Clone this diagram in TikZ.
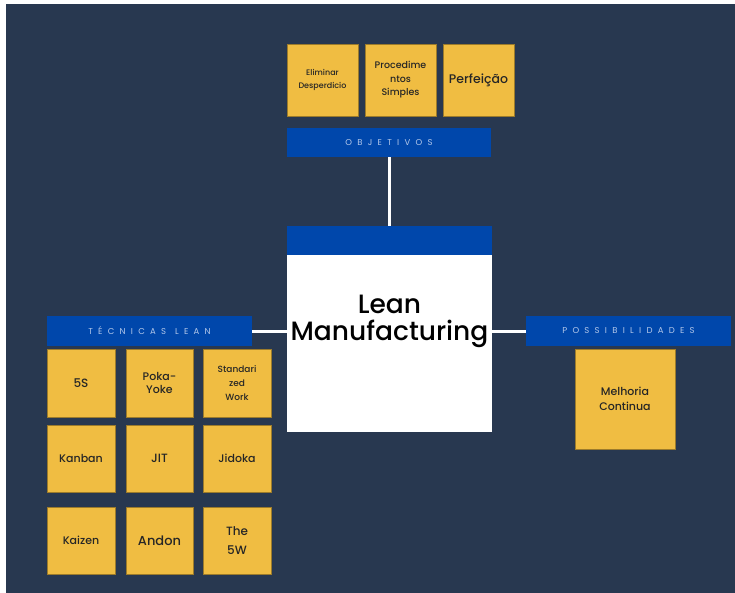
\documentclass[tikz,border=0pt]{standalone}
\usepackage{fontspec}
\setmainfont{Poppins}[UprightFont=* Medium]
\newfontfamily\headfont{Poppins}[LetterSpace=62]
\definecolor{bgNavy}{HTML}{283850}
\definecolor{leanBlue}{HTML}{0047AB}
\definecolor{noteYellow}{HTML}{F0BD42}
\definecolor{headText}{HTML}{B4C8EA}

\begin{document}
\begin{tikzpicture}[x=1pt,y=-1pt,
    note/.style={fill=noteYellow,draw=noteYellow!65!black,line width=0.5pt,inner sep=0pt,
                 minimum width=68pt,minimum height=68pt,align=center,text=black!85,font=\fontsize{11}{13}\selectfont},
    bar/.style={fill=leanBlue,inner sep=0pt,minimum width=205pt,minimum height=30pt,
                text=headText,font=\headfont\fontsize{8.5}{9}\selectfont},
    link/.style={line width=3pt,draw=white}]
    % page
    \useasboundingbox (0,0) rectangle (735,593);
    \fill[bgNavy] (6,4) rectangle (735,593);

    % centre
    \node[fill=white,inner sep=0pt,minimum width=205pt,minimum height=177pt] (leanBox) at (389.5,343.5) {};
    \node[fill=leanBlue,inner sep=0pt,minimum width=205pt,minimum height=29pt] (leanHead) at (389.5,240.5) {};
    \node[align=center,font=\fontsize{26.5}{27}\selectfont] (leanText) at (389.5,321) {Lean\\Manufacturing};

    % objetivos
    \node[bar,minimum width=204pt,minimum height=29pt] (objBar) at (389,142.5) {OBJETIVOS};
    \node[note,minimum width=71pt,minimum height=72pt,font=\fontsize{8}{12.5}\selectfont] (elimDesp) at (322.5,80) {Eliminar\\Desperdicio};
    \node[note,minimum width=71pt,minimum height=72pt,font=\fontsize{9.5}{13.5}\selectfont] (procSimp) at (400.5,80) {Procedime\\ntos\\Simples};
    \node[note,minimum width=71pt,minimum height=72pt,font=\fontsize{12.5}{13}\selectfont] (perfeicao) at (478.5,80) {Perfeição};

    % tecnicas
    \node[bar] (techBar) at (149.5,331) {TÉCNICAS\hspace*{9pt}LEAN};
    \node[note,font=\fontsize{12}{13}\selectfont] (fiveS) at (81,383) {5S};
    \node[note,minimum width=67pt] (pokaYoke) at (159.5,383) {Poka-\\Yoke};
    \node[note,font=\fontsize{9}{14}\selectfont] (stdWork) at (237,383) {Standari\\zed\\Work};
    \node[note,minimum height=67pt] (kanban) at (81,458.5) {Kanban};
    \node[note,minimum width=67pt,minimum height=67pt,font=\fontsize{12}{13}\selectfont] (jit) at (159.5,458.5) {JIT};
    \node[note,minimum height=67pt] (jidoka) at (237,458.5) {Jidoka};
    \node[note,minimum height=67pt] (kaizen) at (81,540.5) {Kaizen};
    \node[note,minimum width=67pt,minimum height=67pt,font=\fontsize{13}{13}\selectfont] (andon) at (159.5,540.5) {Andon};
    \node[note,minimum height=67pt,font=\fontsize{12}{19}\selectfont] (theFiveW) at (237,540.5) {The\\5W};

    % possibilidades
    \node[bar] (possBar) at (628.5,331) {POSSIBILIDADES};
    \node[note,minimum width=100pt,minimum height=100pt,font=\fontsize{11}{15}\selectfont] (melhoria) at (625,399) {Melhoria\\Continua};

    % links
    \draw[link] (objBar.south) -- (objBar.south |- leanHead.north);
    \draw[link] (techBar.east) -- (techBar.east -| leanBox.west);
    \draw[link] (possBar.west) -- (possBar.west -| leanBox.east);
\end{tikzpicture}
\end{document}
